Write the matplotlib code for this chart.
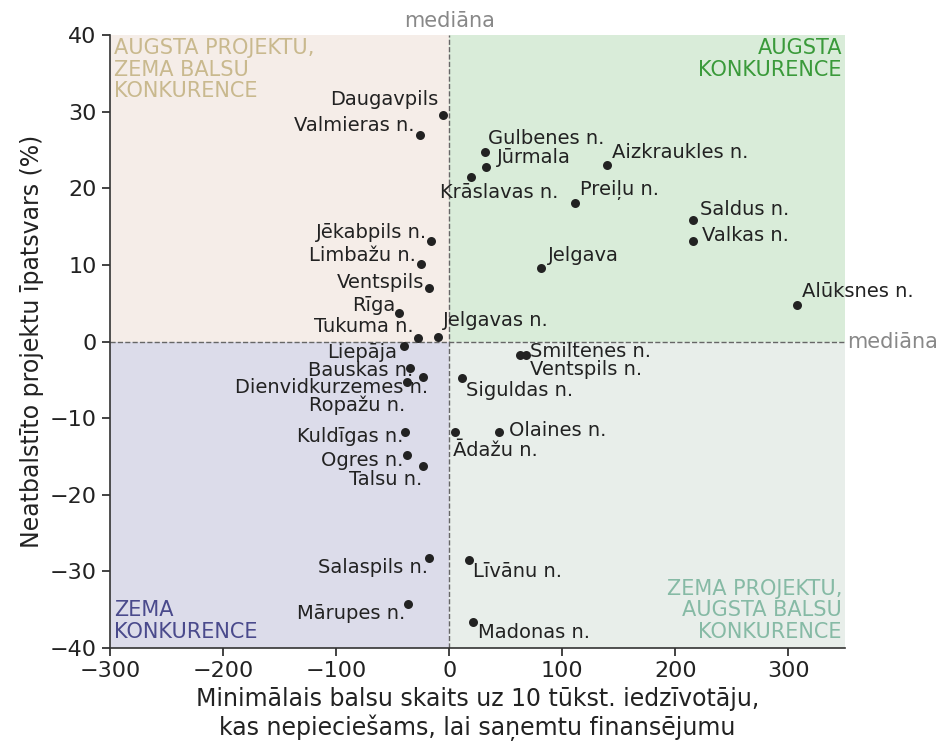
import matplotlib
matplotlib.use("Agg")
import matplotlib.pyplot as plt

# ---- data ----
names = ["Daugavpils", "Valmieras n.", "Gulbenes n.", "Jūrmala", "Krāslavas n.",
         "Aizkraukles n.", "Preiļu n.", "Saldus n.", "Valkas n.", "Jelgava",
         "Alūksnes n.", "Jēkabpils n.", "Limbažu n.", "Ventspils", "Rīga",
         "Tukuma n.", "Jelgavas n.", "Liepāja", "Bauskas n.", "Dienvidkurzemes n.",
         "Ropažu n.", "Kuldīgas n.", "Ogres n.", "Talsu n.", "Salaspils n.",
         "Mārupes n.", "Smiltenes n.", "Ventspils n.", "Siguldas n.", "Ādažu n.",
         "Olaines n.", "Līvānu n.", "Madonas n."]
x_votes = [-5.3, -25.6, 31.8, 32.7, 19.5,
           139.7, 111.4, 215.7, 215.7, 81.3,
           307.7, -15.9, -24.8, -17.7, -44.2,
           -27.4, -9.7, -39.8, -34.5, -23.0,
           -37.1, -38.9, -37.1, -23.0, -17.7,
           -36.3, 62.8, 68.1, 11.5, 5.3,
           44.2, 17.7, 21.2]
y_share = [29.6, 27.0, 24.7, 22.8, 21.5,
           23.0, 18.1, 15.9, 13.1, 9.6,
           4.8, 13.1, 10.1, 7.0, 3.7,
           0.5, 0.6, -0.6, -3.5, -4.6,
           -5.3, -11.8, -14.8, -16.3, -28.3,
           -34.3, -1.8, -1.8, -4.8, -11.8,
           -11.8, -28.5, -36.6]
median_x = 0.0
median_y = 0.0
x_ticks = [-300, -200, -100, 0, 100, 200, 300]
y_ticks = [-40, -30, -20, -10, 0, 10, 20, 30, 40]

# label offsets in pixels (dx, dy) and alignment
label_pos = {
    "Daugavpils": (-5, 15, "right"), "Valmieras n.": (-6, 9, "right"),
    "Gulbenes n.": (3, 14, "left"), "Jūrmala": (11, 9, "left"),
    "Krāslavas n.": (-31, -16, "left"), "Aizkraukles n.": (5, 13, "left"),
    "Preiļu n.": (5, 13, "left"), "Saldus n.": (7, 10, "left"),
    "Valkas n.": (9, 6, "left"), "Jelgava": (7, 12, "left"),
    "Alūksnes n.": (5, 13, "left"), "Jēkabpils n.": (-4, 9, "right"),
    "Limbažu n.": (-5, 9, "right"), "Ventspils": (-5, 5, "right"),
    "Rīga": (-4, 8, "right"), "Tukuma n.": (-5, 11, "right"),
    "Jelgavas n.": (5, 16, "left"), "Liepāja": (-7, -6, "right"),
    "Bauskas n.": (3, -2, "right"), "Dienvidkurzemes n.": (5, -11, "right"),
    "Ropažu n.": (-2, -23, "right"), "Kuldīgas n.": (-2, -5, "right"),
    "Ogres n.": (-4, -6, "right"), "Talsu n.": (-1, -13, "right"),
    "Salaspils n.": (-1, -9, "right"), "Mārupes n.": (-3, -9, "right"),
    "Smiltenes n.": (10, 4, "left"), "Ventspils n.": (4, -14, "left"),
    "Siguldas n.": (4, -12, "left"), "Ādažu n.": (-2, -19, "left"),
    "Olaines n.": (10, 1, "left"), "Līvānu n.": (4, -12, "left"),
    "Madonas n.": (5, -11, "left"),
}

plt.rcParams['font.family'] = ['DejaVu Sans']

fig = plt.figure(figsize=(9.41, 7.42), dpi=100)
ax = fig.add_axes([110/941, 1-648/742, (845-110)/941, (648-35)/742])

xmin, xmax = -300, 350
ymin, ymax = -40, 40
ax.set_xlim(xmin, xmax)
ax.set_ylim(ymin, ymax)

# quadrant shading
ax.fill_between([xmin, median_x], median_y, ymax, color="#f5ede8", zorder=0, lw=0)
ax.fill_between([median_x, xmax], median_y, ymax, color="#d9ecd9", zorder=0, lw=0)
ax.fill_between([xmin, median_x], ymin, median_y, color="#dcdcea", zorder=0, lw=0)
ax.fill_between([median_x, xmax], ymin, median_y, color="#e8eeea", zorder=0, lw=0)

ax.axvline(median_x, color="#666666", ls="--", lw=1.0, zorder=1)
ax.axhline(median_y, color="#666666", ls="--", lw=1.0, zorder=1)

ax.scatter(x_votes, y_share, s=42, color="#222222", zorder=3, linewidths=0)

for n, xv, yv in zip(names, x_votes, y_share):
    dx, dy, ha = label_pos[n]
    ax.annotate(n, (xv, yv), xytext=(dx, dy), textcoords="offset pixels",
                ha=ha, va="center", fontsize=14, color="#222222", zorder=4)

# quadrant labels
qfs = 15
ax.annotate("AUGSTA PROJEKTU,\nZEMA BALSU\nKONKURENCE", (0, 1), xycoords="axes fraction",
            xytext=(4, -3), textcoords="offset pixels", ha="left", va="top",
            fontsize=qfs, color="#c9b98e", linespacing=1.1)
ax.annotate("AUGSTA\nKONKURENCE", (1, 1), xycoords="axes fraction",
            xytext=(-3, -3), textcoords="offset pixels", ha="right", va="top",
            fontsize=qfs, color="#3a9a3a", linespacing=1.1)
ax.annotate("ZEMA\nKONKURENCE", (0, 0), xycoords="axes fraction",
            xytext=(4, 6), textcoords="offset pixels", ha="left", va="bottom",
            fontsize=qfs, color="#4a4a8c", linespacing=1.1)
ax.annotate("ZEMA PROJEKTU,\nAUGSTA BALSU\nKONKURENCE", (1, 0), xycoords="axes fraction",
            xytext=(-3, 6), textcoords="offset pixels", ha="right", va="bottom",
            fontsize=qfs, color="#86baa5", linespacing=1.1)

# median labels
ax.annotate("mediāna", (median_x, 1), xycoords=("data", "axes fraction"),
            xytext=(0, 4), textcoords="offset pixels", ha="center", va="bottom",
            fontsize=qfs, color="#888888", annotation_clip=False)
ax.annotate("mediāna", (1, median_y), xycoords=("axes fraction", "data"),
            xytext=(2, 0), textcoords="offset pixels", ha="left", va="center",
            fontsize=qfs, color="#888888", annotation_clip=False)

ax.set_xticks(x_ticks)
ax.set_yticks(y_ticks)
ax.tick_params(labelsize=16, length=6, width=1.2, colors="#222222")
for s in ["top", "right"]:
    ax.spines[s].set_visible(False)
for s in ["left", "bottom"]:
    ax.spines[s].set_linewidth(1.2)
    ax.spines[s].set_color("#333333")

ax.set_xlabel("Minimālais balsu skaits uz 10 tūkst. iedzīvotāju,\n"
              "kas nepieciešams, lai saņemtu finansējumu", fontsize=17, color="#222222")
ax.set_ylabel("Neatbalstīto projektu īpatsvars (%)", fontsize=17, color="#222222")

fig.savefig("out.png", dpi=100)
